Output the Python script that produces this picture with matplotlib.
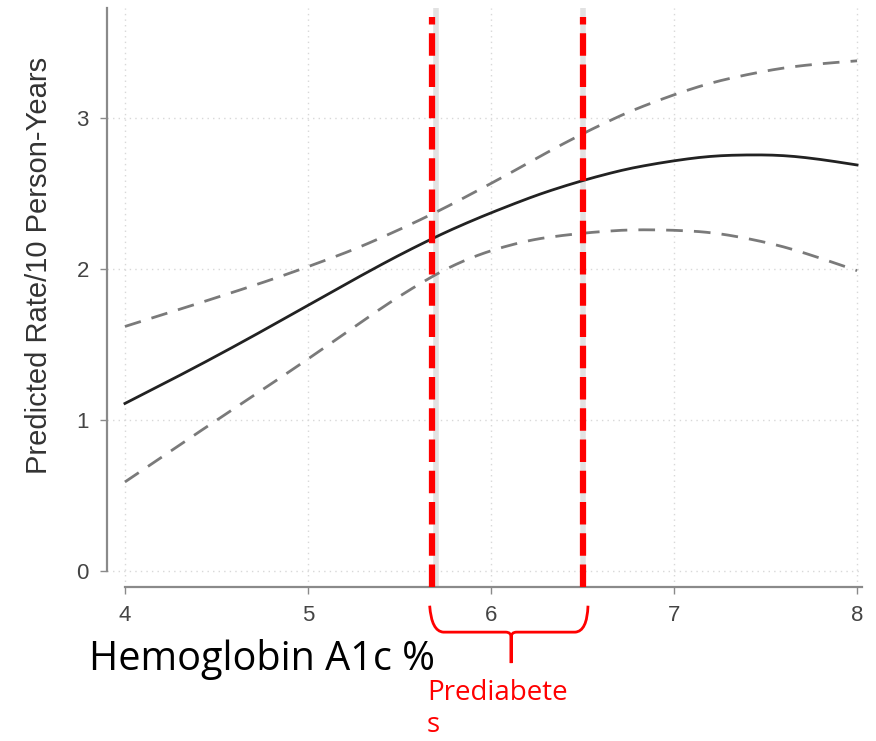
import numpy as np
import matplotlib.pyplot as plt
from matplotlib.path import Path
from matplotlib.patches import PathPatch

# values
a1c = [4.0, 4.5, 5.0, 5.5, 5.7, 6.0, 6.5, 7.0, 7.4, 7.8, 8.0]
rate = [1.11, 1.42, 1.76, 2.10, 2.22, 2.38, 2.60, 2.73, 2.77, 2.74, 2.69]
upper = [1.62, 1.81, 2.01, 2.25, 2.38, 2.56, 2.91, 3.17, 3.30, 3.37, 3.38]
lower = [0.59, 1.00, 1.40, 1.83, 1.98, 2.15, 2.25, 2.27, 2.22, 2.08, 1.99]
xticks = [4, 5, 6, 7, 8]
yticks = [0, 1, 2, 3]
cut_low = 5.68
cut_high = 6.5


def smooth(x, y, n=200):
    # moving-average smoothing of the piecewise line through the read points
    xs = np.linspace(x[0], x[-1], n)
    ys = np.interp(xs, x, y)
    k = 15
    pad = np.pad(ys, k, mode="reflect", reflect_type="odd")
    ker = np.ones(2 * k + 1) / (2 * k + 1)
    ys2 = np.convolve(pad, ker, mode="valid")
    ys2[0], ys2[-1] = y[0], y[-1]
    return xs, ys2


fig = plt.figure(figsize=(8.76, 7.41), dpi=100)
ax = fig.add_axes([107 / 876, 154 / 741, 755 / 876, 579 / 741])
ax.set_xlim(3.902, 8.027)
ax.set_ylim(-0.106, 3.73)

for x in xticks:
    ax.axvline(x, color="#d8d8d8", lw=1, ls=(0, (1, 3)), zorder=0)
for y in yticks:
    ax.axhline(y, color="#d8d8d8", lw=1, ls=(0, (1, 3)), zorder=0)

xs, ys = smooth(a1c, rate)
ax.plot(xs, ys, color="#222222", lw=2, zorder=3)
xs, ys = smooth(a1c, upper)
ax.plot(xs, ys, color="#7a7a7a", lw=2, ls=(0, (6, 4)), zorder=3)
xs, ys = smooth(a1c, lower)
ax.plot(xs, ys, color="#7a7a7a", lw=2, ls=(0, (6, 4)), zorder=3)

for c in [cut_low + 0.02, cut_high]:
    ax.axvline(c, color="#e2e2e2", lw=4, zorder=1)
for c in [cut_low, cut_high]:
    ax.plot([c, c], [-0.106, 3.67], color="#ff0000", lw=4.5,
            ls=(0, (3.6, 1.4)), zorder=4, clip_on=False)

for s in ["top", "right"]:
    ax.spines[s].set_visible(False)
ax.spines["left"].set_bounds(0, 3.73)
ax.spines["bottom"].set_bounds(4, 8.027)
ax.spines["left"].set_color("#8a8a8a")
ax.spines["bottom"].set_color("#8a8a8a")
ax.spines["left"].set_linewidth(1.6)
ax.spines["bottom"].set_linewidth(1.6)

ax.set_xticks(xticks)
ax.set_yticks(yticks)
ax.tick_params(axis="both", colors="#8a8a8a", labelcolor="#444444",
               labelsize=16, length=5, width=1)
ax.tick_params(axis="x", pad=8)
ax.tick_params(axis="y", pad=8)
for lab in ax.get_xticklabels() + ax.get_yticklabels():
    lab.set_family("Liberation Sans")
ax.set_ylabel("Predicted Rate/10 Person-Years", fontsize=21,
              color="#333333", family="Liberation Sans")
ax.yaxis.set_label_coords(-0.071, 0.556)

# brace under the prediabetes range
mid = (cut_low + cut_high) / 2 + 0.02
verts = [
    (cut_low - 0.015, -0.23), (cut_low - 0.005, -0.40), (cut_low + 0.06, -0.405),
    (mid - 0.03, -0.405), (mid, -0.405), (mid, -0.44), (mid, -0.61),
    (mid, -0.44), (mid, -0.405), (mid + 0.03, -0.405),
    (cut_high - 0.04, -0.405), (cut_high + 0.025, -0.40), (cut_high + 0.03, -0.23),
]
codes = [Path.MOVETO, Path.CURVE3, Path.CURVE3, Path.LINETO, Path.CURVE3, Path.CURVE3,
         Path.LINETO, Path.LINETO, Path.CURVE3, Path.CURVE3, Path.LINETO,
         Path.CURVE3, Path.CURVE3]
ax.add_patch(PathPatch(Path(verts, codes), fill=False, edgecolor="#ff0000",
                       lw=2, clip_on=False))

fig.text(89 / 876, 1 - 660 / 741, "Hemoglobin A1c %", fontsize=28.5,
         family="Open Sans", color="black", va="center", ha="left")
fig.text(427 / 876, 1 - 693 / 741, "Prediabete", fontsize=20,
         family="Open Sans", color="#ff0000", va="center", ha="left")
fig.text(427 / 876, 1 - 725 / 741, "s", fontsize=20,
         family="Open Sans", color="#ff0000", va="center", ha="left")

fig.savefig("out.png", dpi=100)
